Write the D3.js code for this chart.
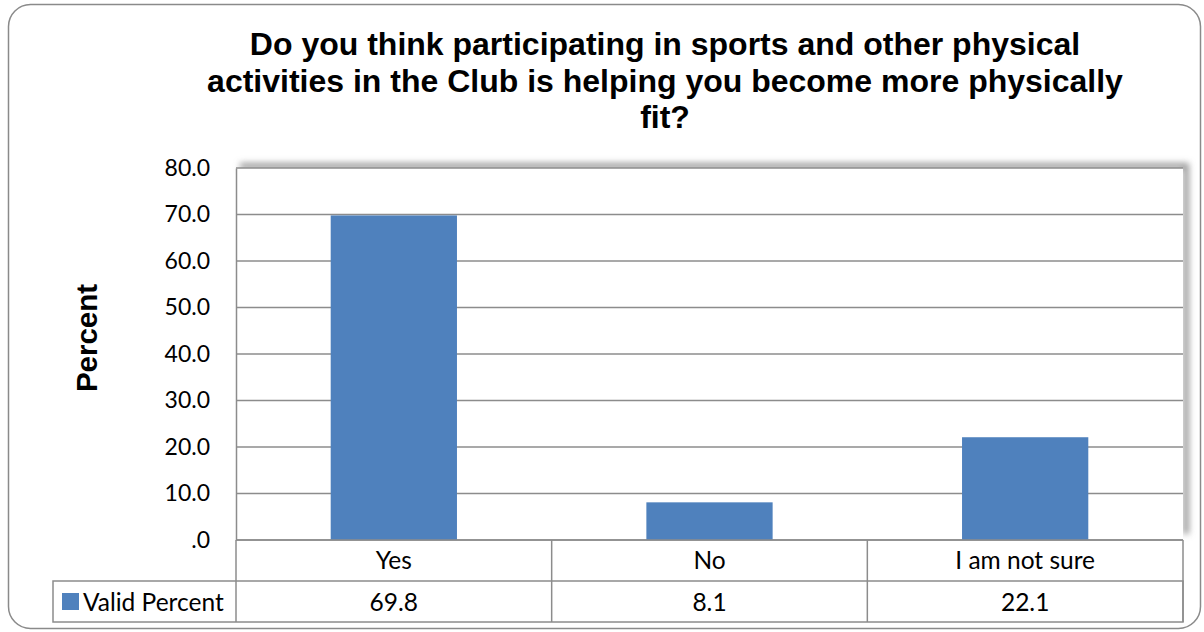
<!DOCTYPE html>
<html>
<head>
<meta charset="utf-8">
<script src="https://cdn.jsdelivr.net/npm/d3@7"></script>
<style>
  body { margin: 0; background: #fff; }
  svg { display: block; }
  .bold { font-family: Arial, "Liberation Sans", Helvetica, sans-serif; font-weight: bold; }
  .tick-font { font-family: Lato, "Open Sans", sans-serif; font-size: 23px; }
  .cell-font { font-family: Lato, "Open Sans", sans-serif; font-size: 24.5px; }
</style>
</head>
<body>
<script>
// chart data
const categories = ["Yes", "No", "I am not sure"];
const validPercent = [69.8, 8.1, 22.1];
const yTicks = [0, 10, 20, 30, 40, 50, 60, 70, 80];
const seriesName = "Valid Percent";
const titleLines = [
    "Do you think participating in sports and other physical",
    "activities in the Club is helping you become more physically",
    "fit?"
];

const W = 1204, H = 632;
const plot = { left: 236, top: 168, right: 1183, bottom: 540 };
const rowH = [41, 41];
const legendLeft = 53;
const barColor = "#4F81BD";
const lineColor = "#8c8c8c";

const svg = d3.select("body").append("svg")
    .attr("width", W)
    .attr("height", H);

const defs = svg.append("defs");
const blur = defs.append("filter").attr("id", "shadow")
    .attr("x", "-5%").attr("y", "-5%").attr("width", "110%").attr("height", "110%");
blur.append("feGaussianBlur").attr("stdDeviation", 3);

// outer frame
svg.append("rect")
    .attr("x", 8.5).attr("y", 4.5)
    .attr("width", 1192).attr("height", 624)
    .attr("rx", 22).attr("ry", 22)
    .attr("fill", "#fff")
    .attr("stroke", "#8a8a8a")
    .attr("stroke-width", 1.5);

// title
svg.append("text")
    .attr("class", "bold")
    .attr("text-anchor", "middle")
    .style("font-size", "32px")
    .selectAll("tspan")
    .data(titleLines)
    .join("tspan")
    .attr("x", 665)
    .attr("y", (d, i) => 55 + i * 36.5)
    .text(d => d);

const x = d3.scaleBand()
    .domain(categories)
    .range([plot.left, plot.right])
    .paddingInner(0.6)
    .paddingOuter(0.3);

const y = d3.scaleLinear()
    .domain([0, 80])
    .range([plot.bottom, plot.top]);

// plot area shadow
svg.append("path")
    .attr("d", `M${plot.left + 4},${plot.top - 2} H${plot.right + 3} V${plot.bottom - 6}`)
    .attr("fill", "none")
    .attr("stroke", "#9a9a9a")
    .attr("stroke-width", 6)
    .attr("filter", "url(#shadow)");

svg.append("rect")
    .attr("x", plot.left).attr("y", plot.top)
    .attr("width", plot.right - plot.left)
    .attr("height", plot.bottom - plot.top)
    .attr("fill", "#fff");

// gridlines
svg.append("g")
    .selectAll("line")
    .data(yTicks)
    .join("line")
    .attr("x1", plot.left).attr("x2", plot.right)
    .attr("y1", d => y(d)).attr("y2", d => y(d))
    .attr("stroke", lineColor)
    .attr("stroke-width", 1.5);

// y axis
const yAxis = svg.append("g")
    .attr("transform", `translate(${plot.left},0)`)
    .call(d3.axisLeft(y).tickValues(yTicks).tickSize(0).tickPadding(26)
        .tickFormat(d => d === 0 ? ".0" : d3.format(".1f")(d)));
yAxis.select(".domain").attr("stroke", lineColor).attr("stroke-width", 1.5);
yAxis.attr("font-family", null).attr("font-size", null);
yAxis.selectAll("text")
    .attr("class", "tick-font")
    .attr("fill", "#000");

// bars
svg.append("g")
    .selectAll("rect")
    .data(categories)
    .join("rect")
    .attr("x", d => x(d))
    .attr("width", x.bandwidth())
    .attr("y", (d, i) => y(validPercent[i]))
    .attr("height", (d, i) => y(0) - y(validPercent[i]))
    .attr("fill", barColor);

// data table
const tableBottom = plot.bottom + rowH[0] + rowH[1];
const colEdges = d3.range(categories.length + 1)
    .map(i => plot.left + i * (plot.right - plot.left) / categories.length);
const table = svg.append("g")
    .attr("stroke", lineColor)
    .attr("stroke-width", 1.5)
    .attr("fill", "none");

table.append("rect")
    .attr("x", legendLeft)
    .attr("y", plot.bottom + rowH[0])
    .attr("width", plot.right - legendLeft)
    .attr("height", rowH[1]);
table.append("line")
    .attr("x1", plot.left).attr("x2", plot.right)
    .attr("y1", plot.bottom).attr("y2", plot.bottom);
table.selectAll("line.col")
    .data(colEdges)
    .join("line")
    .attr("class", "col")
    .attr("x1", d => d).attr("x2", d => d)
    .attr("y1", plot.bottom).attr("y2", tableBottom);

const cellText = svg.append("g")
    .attr("class", "cell-font")
    .attr("text-anchor", "middle");

cellText.selectAll("text.cat")
    .data(categories)
    .join("text")
    .attr("x", d => x(d) + x.bandwidth() / 2)
    .attr("y", plot.bottom + 29)
    .text(d => d);

cellText.selectAll("text.val")
    .data(validPercent)
    .join("text")
    .attr("x", (d, i) => x(categories[i]) + x.bandwidth() / 2)
    .attr("y", plot.bottom + rowH[0] + 30)
    .text(d => d3.format(".1f")(d));

// legend key in table
svg.append("rect")
    .attr("x", 62).attr("y", plot.bottom + rowH[0] + 12)
    .attr("width", 17).attr("height", 17)
    .attr("fill", barColor);
svg.append("text")
    .attr("class", "cell-font")
    .attr("x", 83)
    .attr("y", plot.bottom + rowH[0] + 30)
    .text(seriesName);

// y axis title
svg.append("text")
    .attr("class", "bold")
    .attr("transform", `translate(97,338) rotate(-90)`)
    .attr("text-anchor", "middle")
    .style("font-size", "29.5px")
    .text("Percent");
</script>
</body>
</html>
